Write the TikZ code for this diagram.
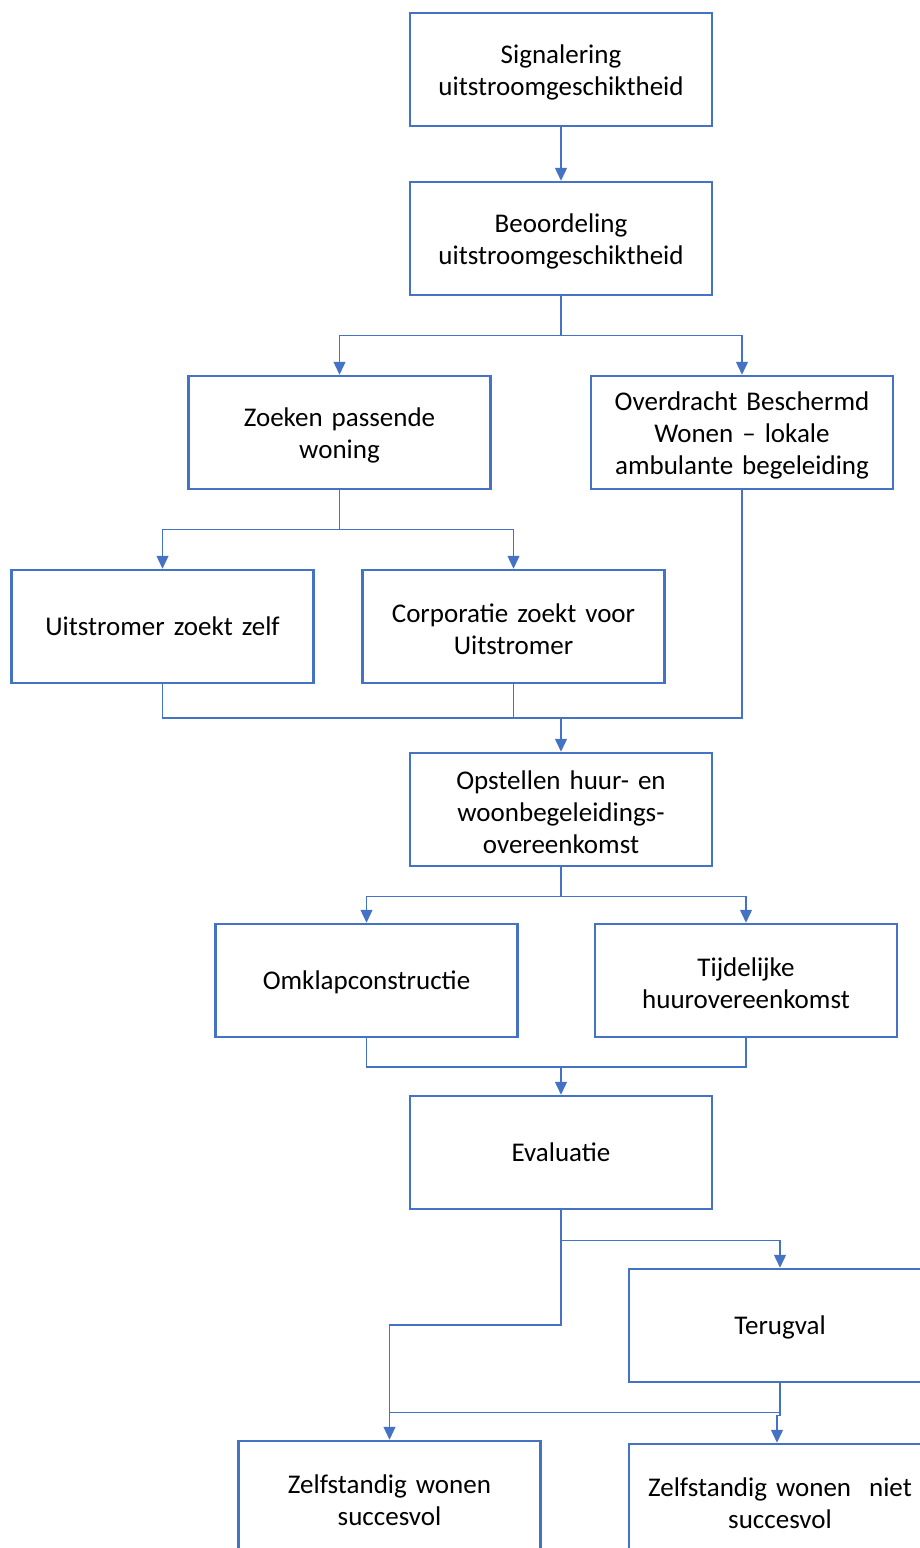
\documentclass[tikz,border=0pt]{standalone}
\usepackage{fontspec}
\setmainfont[WordSpace=0.85]{Carlito}
\usetikzlibrary{arrows.meta}
\definecolor{bl}{HTML}{4472C4}
\tikzset{
  box/.style={draw=bl, line width=2.5pt, minimum width=302pt, minimum height=113pt,
    text width=296pt, align=center, inner sep=0pt,
    font=\fontsize{27}{32}\selectfont,
    execute at end node={\par\vspace{-6pt}}},
  lnk/.style={draw=bl, line width=1.3pt},
  conn/.style={lnk, -{Triangle[length=13pt,width=12pt]}}
}
\begin{document}
\begin{tikzpicture}[x=1pt,y=-1pt]
\useasboundingbox (0,0) rectangle (920,1548);
\node[box] (s1) at (561,69.5) {Signalering\\uitstroomgeschiktheid};
\node[box] (s2) at (561,238.5) {Beoordeling\\uitstroomgeschiktheid};
\node[box] (s3) at (339.5,432.5) {Zoeken passende\\woning};
\node[box] (s4) at (742,432.5) {Overdracht Beschermd\\Wonen – lokale\\ambulante begeleiding};
\node[box] (s5) at (162.5,626.5) {Uitstromer zoekt zelf};
\node[box] (s6) at (513.5,626.5) {Corporatie zoekt voor\\Uitstromer};
\node[box] (s7) at (561,809.5) {Opstellen huur- en\\woonbegeleidings-\\overeenkomst};
\node[box] (s8) at (366.5,980.5) {Omklapconstructie};
\node[box] (s9) at (746,980.5) {Tijdelijke\\huurovereenkomst};
\node[box] (s10) at (561,1152.5) {Evaluatie};
\node[box] (s11) at (780,1325.5) {Terugval};
\node[box] (s12) at (389.5,1497.5) {Zelfstandig wonen\\succesvol};
\node[box] (s13) at (780,1500.5) {Zelfstandig wonen\ \ niet\\succesvol};

\draw[conn] (s1.south) -- (s2.north);

\draw[lnk] (s2.south) -- ++(0,39) coordinate (j1);
\draw[conn] (j1) -| (s3.north);
\draw[conn] (j1) -| (s4.north);

\draw[lnk] (s3.south) -- ++(0,39) coordinate (j2);
\draw[conn] (j2) -| (s5.north);
\draw[conn] (j2) -| (s6.north);

\coordinate (m) at (561,718);
\draw[lnk] (s5.south) |- (m);
\draw[lnk] (s6.south) -- (s6.south |- m);
\draw[lnk] (s4.south) |- (m);
\draw[conn] (m) -- (s7.north);

\draw[lnk] (s7.south) -- ++(0,29) coordinate (j3);
\draw[conn] (j3) -| (s8.north);
\draw[conn] (j3) -| (s9.north);

\coordinate (m2) at (561,1067);
\draw[lnk] (s8.south) |- (m2);
\draw[lnk] (s9.south) |- (m2);
\draw[conn] (m2) -- (s10.north);

\draw[lnk] (s10.south) -- ++(0,30) coordinate (e1);
\draw[conn] (e1) -| (s11.north);
\draw[conn] (e1) -- (561,1325) -| (s12.north);

\draw[lnk] (s11.south) -- ++(0,29) coordinate (t1);
\draw[lnk] (t1) -- (s12.north |- t1);
\draw[conn] (t1) -- ++(0,3) -| ([xshift=-3pt]s13.north);
\end{tikzpicture}
\end{document}
